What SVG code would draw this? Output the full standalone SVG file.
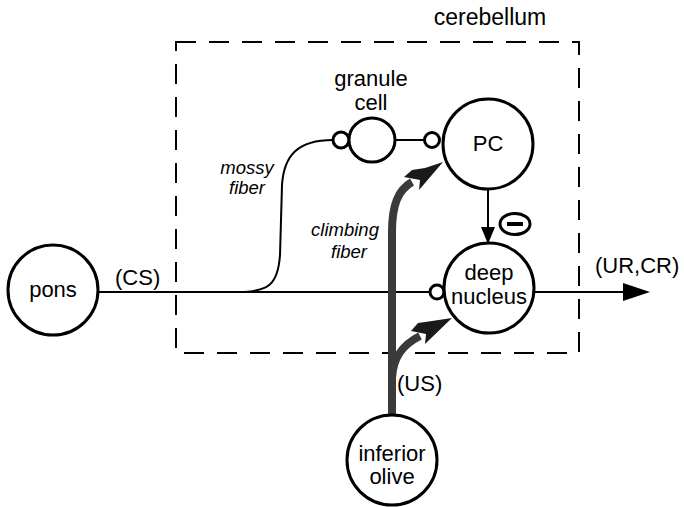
<svg xmlns="http://www.w3.org/2000/svg" width="684" height="507" viewBox="0 0 684 507">
  <style>
    text { font-family: "Liberation Sans", Arial, sans-serif; fill: #000; }
    .lbl { font-size: 22px; text-anchor: middle; }
    .sig { font-size: 22px; }
    .it { font-size: 18.5px; font-style: italic; text-anchor: middle; }
    .node { fill: #fff; stroke: #000; stroke-width: 3; }
    .wire { fill: none; stroke: #000; stroke-width: 2; }
    .cf { fill: none; stroke: #3a3a3a; stroke-width: 8; }
    .cfhead { fill: #1a1a1a; }
  </style>
  <rect width="684" height="507" fill="#fff"/>

  <!-- cerebellum boundary -->
  <g id="cerebellum">
    <rect x="176" y="42" width="403" height="311" fill="none" stroke="#000" stroke-width="2" stroke-dasharray="20 13"/>
    <text class="lbl" x="490" y="25" style="font-size:23px">cerebellum</text>
  </g>

  <!-- connectors -->
  <g id="connectors">
    <!-- CS pathway from pons to deep nucleus -->
    <line class="wire" x1="98" y1="292" x2="430" y2="292"/>
    <!-- mossy fiber branch to granule cell -->
    <path class="wire" d="M 238 292 C 268 292, 278 285, 280 255 L 282 185 C 284 155, 298 140, 333 140"/>
    <!-- granule cell to PC -->
    <line class="wire" x1="395" y1="140" x2="425" y2="140"/>
    <!-- PC inhibits deep nucleus -->
    <line class="wire" x1="488" y1="189" x2="488" y2="228"/>
    <polygon points="481,227 495,227 488,244" fill="#000"/>
    <!-- output -->
    <line class="wire" x1="534" y1="292" x2="626" y2="292"/>
    <polygon points="623,283 650,292 623,301" fill="#000"/>
    <!-- climbing fiber -->
    <path class="cf" d="M 392 416 L 392 232 C 392 205, 398 190, 412 182"/>
    <polygon class="cfhead" points="443,162 419,190 420,180 404,177 412,170 425,168"/>
    <path class="cf" d="M 392 378 C 393 358, 402 345, 420 336"/>
    <polygon class="cfhead" points="452,318 425,344 426,334 411,331 418,323 432,321"/>
  </g>

  <g id="pons">
    <circle class="node" cx="53" cy="290" r="45"/>
    <text class="lbl" x="53" y="297">pons</text>
  </g>

  <g id="granule-cell">
    <circle class="node" cx="341" cy="140" r="8" stroke-width="2"/>
    <ellipse class="node" cx="372" cy="140" rx="23" ry="22" stroke-width="2.5"/>
    <circle class="node" cx="432" cy="140" r="7.5" stroke-width="2"/>
    <text class="lbl" x="371" y="86">granule</text>
    <text class="lbl" x="371" y="110">cell</text>
  </g>

  <g id="pc">
    <circle class="node" cx="488" cy="144" r="45"/>
    <text class="lbl" x="488" y="151">PC</text>
  </g>

  <g id="deep-nucleus">
    <circle class="node" cx="437" cy="292" r="7" stroke-width="2"/>
    <circle class="node" cx="489" cy="288" r="45"/>
    <text class="lbl" x="489" y="280">deep</text>
    <text class="lbl" x="489" y="304">nucleus</text>
  </g>

  <g id="inhibition">
    <ellipse cx="515" cy="224" rx="15" ry="10.5" fill="#fff" stroke="#000" stroke-width="3"/>
    <rect x="507" y="222" width="16" height="4" fill="#000"/>
  </g>

  <g id="inferior-olive">
    <circle class="node" cx="392" cy="460" r="45"/>
    <text class="lbl" x="392" y="461">inferior</text>
    <text class="lbl" x="392" y="484">olive</text>
  </g>

  <g id="labels">
    <text class="sig" x="115" y="285">(CS)</text>
    <text class="sig" x="595" y="273">(UR,CR)</text>
    <text class="sig" x="397" y="391">(US)</text>
    <text class="it" x="247" y="174">mossy</text>
    <text class="it" x="247" y="194">fiber</text>
    <text class="it" x="345" y="236">climbing</text>
    <text class="it" x="349" y="258">fiber</text>
  </g>
</svg>
